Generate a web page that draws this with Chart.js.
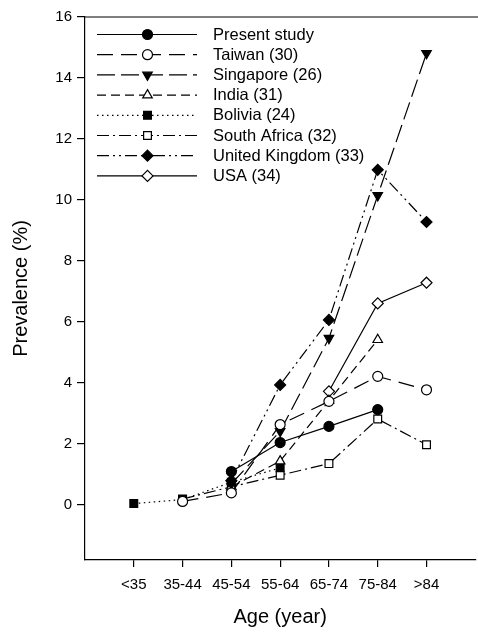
<!DOCTYPE html>
<html>
<head>
<meta charset="utf-8">
<script src="https://cdn.jsdelivr.net/npm/chart.js@4/dist/chart.umd.min.js"></script>
<style>
  html, body { margin: 0; padding: 0; background: #fff; overflow: hidden; }
  #wrap { width: 482px; height: 635px; }
</style>
</head>
<body>
<div id="wrap"><canvas id="prevChart" width="482" height="635"></canvas></div>
<script>
// age groups on the x axis, tick values on the y axis
const ageGroups = ["<35", "35-44", "45-54", "55-64", "65-74", "75-84", ">84"];
const yTickValues = [0, 2, 4, 6, 8, 10, 12, 14, 16];

// prevalence (%) per age group, null where a study has no value
const presentStudy = [null, null, 1.10, 2.05, 2.58, 3.13, null];
const taiwan       = [null, 0.12, 0.40, 2.64, 3.40, 4.22, 3.78];
const singapore    = [null, null, 0.70, 2.42, 5.47, 10.15, 14.81];
const india        = [null, null, 0.60, 1.44, 3.42, 5.42, null];
const bolivia      = [0.05, 0.18, 0.75, 1.22, null, null, null];
const southAfrica  = [null, 0.20, 0.60, 0.98, 1.36, 2.82, 1.98];
const unitedKingdom = [null, null, 0.80, 3.94, 6.07, 10.99, 9.28];
const usa          = [null, null, null, null, 3.73, 6.61, 7.29];

const FONT = "'Liberation Sans', Arial, sans-serif";

function toPoints(values) {
  return values.map((v, i) => ({ x: i, y: v }));
}

function series(label, values, dash, style, filled, radius, rotation) {
  return {
    label: label,
    data: toPoints(values),
    borderColor: "#000",
    borderWidth: 1.2,
    borderDash: dash,
    pointStyle: style,
    pointRotation: rotation || 0,
    pointRadius: radius,
    pointHoverRadius: radius,
    pointBackgroundColor: filled ? "#000" : "#fff",
    pointBorderColor: "#000",
    pointBorderWidth: 1.2,
    fill: false,
    tension: 0
  };
}

const datasets = [
  series("Present study", presentStudy, [], "circle", true, 5),
  series("Taiwan (30)", taiwan, [16, 8], "circle", false, 5),
  series("Singapore (26)", singapore, [18, 6], "triangle", true, 5.5, 180),
  series("India (31)", india, [9, 5], "triangle", false, 5.5),
  series("Bolivia (24)", bolivia, [1.5, 3.5], "rect", true, 5.5),
  series("South Africa (32)", southAfrica, [12, 4, 2, 4], "rect", false, 5.5),
  series("United Kingdom (33)", unitedKingdom, [12, 4, 2, 4, 2, 4], "rectRot", true, 5.5),
  series("USA (34)", usa, [], "rectRot", false, 5.5)
];

// frame line on top and the line/marker legend in the upper left
const legendAndFrame = {
  id: "legendAndFrame",
  afterDraw(chart) {
    const ctx = chart.ctx;
    const area = chart.chartArea;
    ctx.save();
    ctx.strokeStyle = "#000";
    ctx.lineWidth = 1.2;
    ctx.beginPath();
    ctx.moveTo(area.left, area.top);
    ctx.lineTo(chart.width, area.top);
    ctx.stroke();

    const x0 = 97, x1 = 197, xm = 147.5, xt = 213;
    let y = 34.5;
    chart.data.datasets.forEach(ds => {
      ctx.setLineDash(ds.borderDash);
      ctx.lineWidth = ds.borderWidth;
      ctx.strokeStyle = "#000";
      ctx.beginPath();
      ctx.moveTo(x0, y);
      ctx.lineTo(x1, y);
      ctx.stroke();
      ctx.setLineDash([]);
      ctx.fillStyle = ds.pointBackgroundColor;
      ctx.strokeStyle = "#000";
      ctx.lineWidth = ds.pointBorderWidth;
      Chart.helpers.drawPoint(ctx, {
        pointStyle: ds.pointStyle,
        rotation: ds.pointRotation,
        radius: ds.pointRadius,
        borderWidth: ds.pointBorderWidth
      }, xm, y);
      ctx.fillStyle = "#000";
      ctx.font = "16.5px " + FONT;
      ctx.textBaseline = "middle";
      ctx.textAlign = "left";
      ctx.fillText(ds.label, xt, y + 0.5);
      y += 20.2;
    });
    ctx.restore();
  }
};

new Chart(document.getElementById("prevChart"), {
  type: "line",
  data: { datasets: datasets },
  options: {
    responsive: false,
    animation: false,
    layout: { padding: { top: 17, right: 2, left: 0, bottom: 0 } },
    plugins: {
      legend: { display: false },
      tooltip: { enabled: false }
    },
    scales: {
      x: {
        type: "linear",
        min: -1,
        max: 7,
        afterBuildTicks: scale => {
          scale.ticks = ageGroups.map((g, i) => ({ value: i }));
        },
        afterFit: scale => { scale.height = 75; },
        ticks: {
          callback: v => ageGroups[v],
          color: "#000",
          font: { family: FONT, size: 15 },
          padding: 9,
          maxRotation: 0,
          autoSkip: false
        },
        grid: { drawOnChartArea: false, color: "#000", tickLength: 7, lineWidth: 1.2 },
        border: { color: "#000", width: 1.2 },
        title: {
          display: true,
          text: "Age (year)",
          color: "#000",
          font: { family: FONT, size: 20 },
          padding: { top: 0, bottom: 6 }
        }
      },
      y: {
        min: -1.8,
        max: 16,
        afterBuildTicks: scale => {
          scale.ticks = yTickValues.map(v => ({ value: v }));
        },
        afterFit: scale => { scale.width = 85; },
        ticks: {
          color: "#000",
          font: { family: FONT, size: 15 },
          padding: 5
        },
        grid: { drawOnChartArea: false, color: "#000", tickLength: 8, lineWidth: 1.2 },
        border: { color: "#000", width: 1.2 },
        title: {
          display: true,
          text: "Prevalence (%)",
          color: "#000",
          font: { family: FONT, size: 20 },
          padding: { top: 9, bottom: 0 }
        }
      }
    }
  },
  plugins: [legendAndFrame]
});
</script>
</body>
</html>
